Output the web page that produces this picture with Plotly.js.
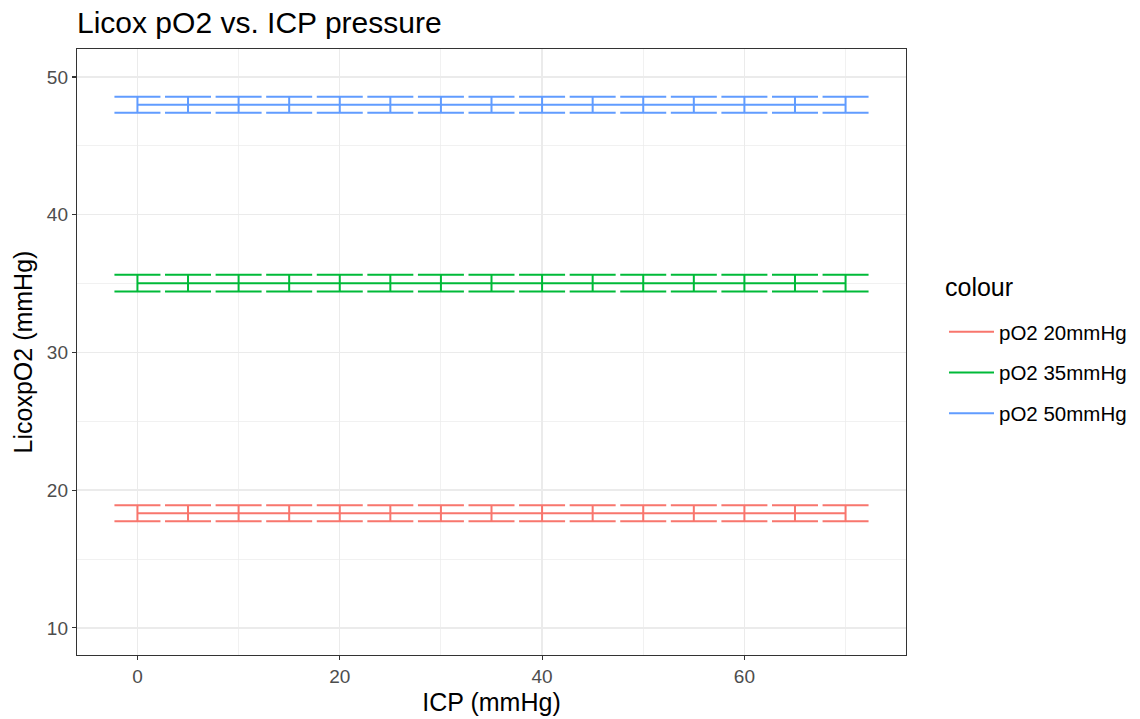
<!DOCTYPE html>
<html>
<head>
<meta charset="utf-8">
<script src="https://cdn.plot.ly/plotly-3.0.1.min.js"></script>
<style>html,body{margin:0;padding:0;background:#fff;}#chart{width:1140px;height:719px;}</style>
</head>
<body>
<div id="chart"></div>
<script>
const icp = [0,5,10,15,20,25,30,35,40,45,50,55,60,65,70];
const seriesNames = ["pO2 20mmHg","pO2 35mmHg","pO2 50mmHg"];
const seriesColors = ["#F8766D","#00BA38","#619CFF"];
const mean20 = [18.33,18.33,18.33,18.33,18.33,18.33,18.33,18.33,18.33,18.33,18.33,18.33,18.33,18.33,18.33];
const mean35 = [35.03,35.03,35.03,35.03,35.03,35.03,35.03,35.03,35.03,35.03,35.03,35.03,35.03,35.03,35.03];
const mean50 = [47.98,47.98,47.98,47.98,47.98,47.98,47.98,47.98,47.98,47.98,47.98,47.98,47.98,47.98,47.98];
const err20 = [0.58,0.58,0.58,0.58,0.58,0.58,0.58,0.58,0.58,0.58,0.58,0.58,0.58,0.58,0.58];
const err35 = [0.6,0.6,0.6,0.6,0.6,0.6,0.6,0.6,0.6,0.6,0.6,0.6,0.6,0.6,0.6];
const err50 = [0.58,0.58,0.58,0.58,0.58,0.58,0.58,0.58,0.58,0.58,0.58,0.58,0.58,0.58,0.58];
const means = [mean20, mean35, mean50];
const errs = [err20, err35, err50];

const traces = seriesNames.map((name, i) => ({
  type: 'scatter', mode: 'lines', name: name, x: icp, y: means[i],
  legendgroup: 'g' + i,
  line: {color: seriesColors[i], width: 2},
  error_y: {type: 'data', array: errs[i], symmetric: true, color: seriesColors[i], thickness: 2, width: 23}
}));

const font = "'Liberation Sans', Arial, Helvetica, sans-serif";
const layout = {
  width: 1140, height: 719,
  margin: {l: 77, r: 234, t: 49, b: 64},
  paper_bgcolor: '#fff', plot_bgcolor: '#fff',
  font: {family: font, color: '#000'},
  title: {text: 'Licox pO2 vs. ICP pressure', x: 77/1140, xanchor: 'left', xref: 'container',
          y: 1 - 22/719, yanchor: 'middle', yref: 'container', font: {size: 30, color: '#000', family: font}},
  xaxis: {
    range: [-5.975, 75.975], tickvals: [0,20,40,60], ticktext: ['0','20','40','60'],
    showgrid: true, gridcolor: '#EBEBEB', gridwidth: 1.3, zeroline: false,
    minor: {tickvals: [10,30,50,70], showgrid: true, gridcolor: '#EBEBEB', gridwidth: 0.7, ticks: ''},
    ticks: 'outside', ticklen: 4, tickwidth: 1.1, tickcolor: '#333',
    tickfont: {size: 19, color: '#4D4D4D'},
    showline: true, mirror: true, linecolor: '#333', linewidth: 1.2,
    title: {text: 'ICP (mmHg)', font: {size: 25, color: '#000'}, standoff: 7}
  },
  yaxis: {
    range: [8.03, 52.03], tickvals: [10,20,30,40,50], ticktext: ['10','20','30','40','50'],
    showgrid: true, gridcolor: '#EBEBEB', gridwidth: 1.3, zeroline: false,
    minor: {tickvals: [15,25,35,45], showgrid: true, gridcolor: '#EBEBEB', gridwidth: 0.7, ticks: ''},
    ticks: 'outside', ticklen: 4, tickwidth: 1.1, tickcolor: '#333',
    tickfont: {size: 19, color: '#4D4D4D'},
    showline: true, mirror: true, linecolor: '#333', linewidth: 1.2,
    title: {text: 'LicoxpO2 (mmHg)', font: {size: 25, color: '#000'}, standoff: 7}
  },
  showlegend: true,
  legend: {
    xref: 'container', yref: 'container', x: 944/1140, xanchor: 'left', y: 1 - 312/719, yanchor: 'top',
    itemwidth: 45,
    font: {size: 20.5, color: '#000'}, tracegroupgap: 11, bgcolor: 'rgba(0,0,0,0)'
  },
  annotations: [{
    text: 'colour', xref: 'paper', yref: 'paper', x: (943 - 77) / 829, y: (655 - 287) / 606,
    xanchor: 'left', yanchor: 'middle', showarrow: false, font: {size: 25, color: '#000', family: font}
  }]
};
Plotly.newPlot('chart', traces, layout, {displayModeBar: false, staticPlot: true});
</script>
</body>
</html>
